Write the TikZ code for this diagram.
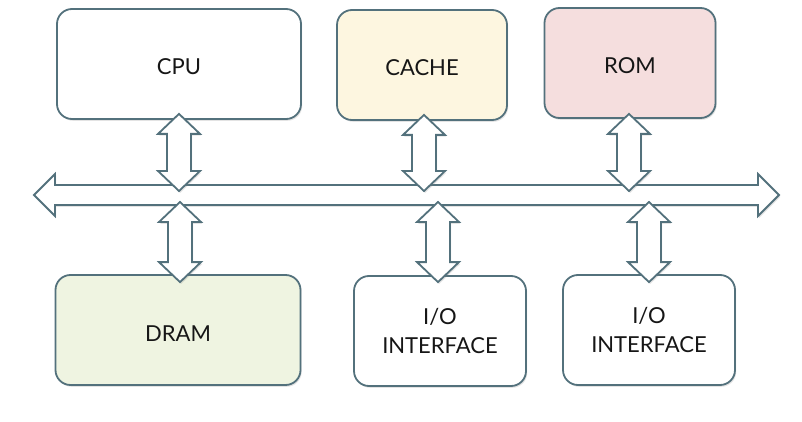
\documentclass[tikz,border=0pt]{standalone}
\usepackage{fontspec}
\setmainfont{Lato}
\usetikzlibrary{calc,shadows}
\definecolor{edgec}{HTML}{53717C}
\definecolor{txtc}{HTML}{161616}
\definecolor{cachec}{HTML}{FDF6E0}
\definecolor{romc}{HTML}{F5DEDE}
\definecolor{dramc}{HTML}{EFF4E1}
\newcommand\vblock[2]{%
  \draw[barrow] (#1) -- ++(21,20) -- ++(-9,0) -- ($(#2)+(12,-20)$) -- ++(9,0) -- (#2)
    -- ++(-21,-20) -- ++(9,0) -- ($(#1)+(-12,20)$) -- ++(-9,0) -- cycle;}
\begin{document}
\begin{tikzpicture}[x=1pt,y=-1pt,
  sh/.style={drop shadow={opacity=0.22,shadow xshift=1.2pt,shadow yshift=-1.8pt}},
  box/.style={draw=edgec,line width=1.8pt,rounded corners=15pt,fill=white,
    minimum height=110pt,align=center,text=txtc,text depth=0pt,
    font=\fontsize{22}{29}\selectfont,
    execute at begin node={\rule{0pt}{22pt}},sh},
  barrow/.style={draw=edgec,line width=1.8pt,fill=white,line join=miter,sh}]
\useasboundingbox[fill=white] (0,0) rectangle (802,422);
% boxes
\node[box,minimum width=244pt] (cpu) at (179,64) {CPU};
\node[box,minimum width=170pt,fill=cachec] (cache) at (422,65) {CACHE};
\node[box,minimum width=171pt,fill=romc] (rom) at (630,63) {ROM};
\node[box,minimum width=245pt,fill=dramc] (dram) at (178,330) {DRAM};
\node[box,minimum width=172pt] (io1) at (440,331) {I/O\\INTERFACE};
\node[box,minimum width=172pt] (io2) at (649,330) {I/O\\INTERFACE};
% bus
\coordinate (busL) at (34,195);
\coordinate (busR) at (779,195);
\draw[barrow] (busL) -- ++(21,-21) -- ++(0,11) -- ($(busR)+(-21,-10)$) -- ++(0,-11) -- (busR)
  -- ++(-21,21) -- ++(0,-11) -- ($(busL)+(21,10)$) -- ++(0,11) -- cycle;
% upper connectors
\coordinate (cpuT) at ($(cpu.south)+(0,-6)$);
\coordinate (cpuB) at ($(busL -| cpu.south)+(0,-4)$);
\coordinate (cacheT) at ($(cache.south)+(2,-6)$);
\coordinate (cacheB) at ($(busL -| cache.south)+(2,-4)$);
\coordinate (romT) at ($(rom.south)+(-1,-5)$);
\coordinate (romB) at ($(busL -| rom.south)+(-1,-4)$);
\vblock{cpuT}{cpuB}
\vblock{cacheT}{cacheB}
\vblock{romT}{romB}
% lower connectors
\coordinate (dramT) at ($(busL -| dram.north)+(2,7)$);
\coordinate (dramB) at ($(dram.north)+(2,8)$);
\coordinate (io1T) at ($(busL -| io1.north)+(-2,7)$);
\coordinate (io1B) at ($(io1.north)+(-2,7)$);
\coordinate (io2T) at ($(busL -| io2.north)+(0,7)$);
\coordinate (io2B) at ($(io2.north)+(0,8)$);
\vblock{dramT}{dramB}
\vblock{io1T}{io1B}
\vblock{io2T}{io2B}
\end{tikzpicture}
\end{document}
